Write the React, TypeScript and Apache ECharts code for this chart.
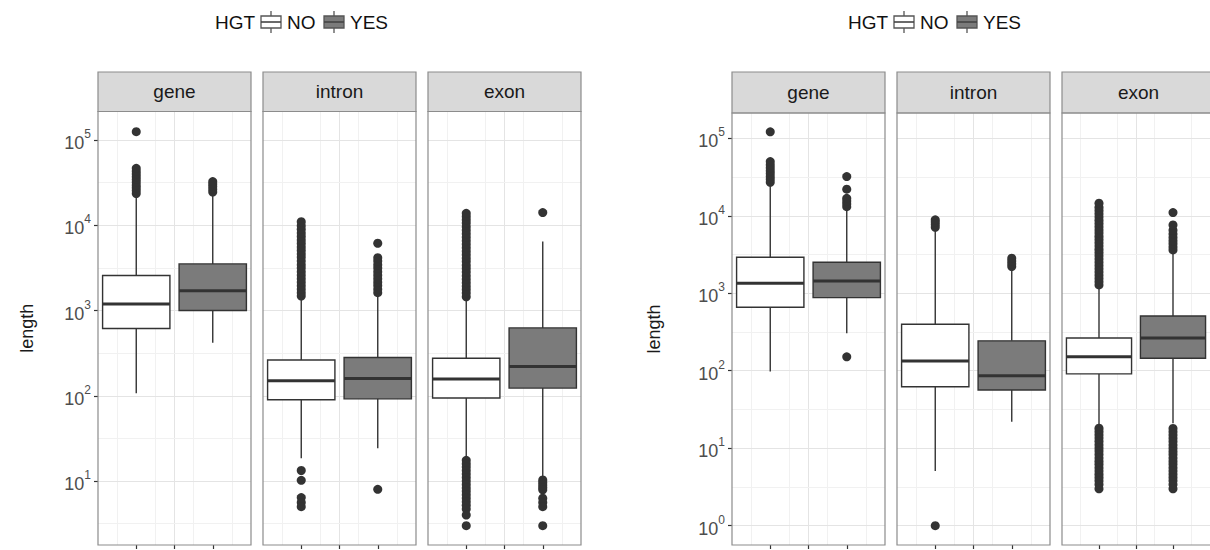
import React, { useEffect, useRef } from "react";
import * as echarts from "echarts";

// ---- data -------------------------------------------------------------
const facets = ["gene", "intron", "exon"];
const groups = ["NO", "YES"];

// five-number summaries: [lower whisker, Q1, median, Q3, upper whisker] (bp)
const lGeneNo = [107, 616, 1190, 2570, 21000];
const lGeneYes = [420, 1000, 1710, 3520, 22000];
const lIntronNo = [18.5, 90, 150, 263, 1400];
const lIntronYes = [24.3, 92, 159, 281, 1500];
const lExonNo = [18.6, 94, 157, 275, 1380];
const lExonYes = [10.8, 123, 220, 625, 6450];

const lGeneNoOut = [23500, 25500, 27500, 29500, 32000, 34500, 37000, 40000, 43000, 46500, 125000];
const lGeneYesOut = [24500, 26500, 28500, 30500, 32500];
const lIntronNoOut = [
  1480, 1620, 1780, 1950, 2150, 2350, 2600, 2850, 3150, 3450, 3800, 4200, 4600, 5050, 5550, 6100,
  6700, 7400, 8100, 8950, 9850, 11000, 13.3, 10.2, 6.4, 5.6, 5.0,
];
const lIntronYesOut = [1620, 1780, 1960, 2150, 2360, 2600, 2850, 3150, 3450, 3800, 4170, 6150, 8.0];
const lExonNoOut = [
  1450, 1600, 1760, 1930, 2120, 2330, 2560, 2820, 3100, 3400, 3750, 4100, 4500, 4950, 5450, 6000,
  6600, 7250, 7950, 8750, 9600, 10600, 11600, 12700, 13800, 17.5, 16, 14.6, 13.3, 12.1, 11, 10, 9.1,
  8.3, 7.6, 6.9, 6.3, 5.7, 5.2, 4.7, 4.0, 3.0,
];
const lExonYesOut = [14100, 10.3, 9.6, 9.0, 8.4, 7.9, 6.3, 5.6, 5.0, 3.0];

const rGeneNo = [98, 659, 1345, 2910, 25500];
const rGeneYes = [305, 877, 1440, 2510, 12000];
const rIntronNo = [5.1, 62, 134, 398, 6400];
const rIntronYes = [22, 56.5, 86, 243, 1950];
const rExonNo = [20, 91, 151, 265, 1150];
const rExonYes = [21, 145, 265, 509, 3200];

const rGeneNoOut = [27000, 29500, 32000, 35000, 38000, 41500, 45500, 50000, 121000];
const rGeneYesOut = [13100, 14300, 15500, 16800, 22000, 32000, 151];
const rIntronNoOut = [7100, 7700, 8300, 8850, 1];
const rIntronYesOut = [2210, 2400, 2600, 2830];
const rExonNoOut = [
  1280, 1410, 1550, 1710, 1880, 2070, 2280, 2510, 2760, 3040, 3350, 3690, 4060, 4470, 4920, 5420,
  5970, 6570, 7230, 7960, 8760, 9650, 10600, 11700, 12900, 14500, 18.1, 16.4, 14.9, 13.5, 12.3, 11.1,
  10.1, 9.2, 8.3, 7.5, 6.8, 6.2, 5.6, 5.1, 4.6, 4.2, 3.8, 3.4, 3.0,
];
const rExonYesOut = [
  3620, 3960, 4340, 4760, 5230, 5820, 6500, 7600, 11000, 18.0, 16.3, 14.8, 13.4, 12.2, 11.0, 10.0,
  9.1, 8.3, 7.5, 6.8, 6.2, 5.6, 5.1, 4.6, 4.2, 3.8, 3.4, 3.0,
];

const leftTicks = [1, 2, 3, 4, 5];
const leftMinor = [0.5, 1.5, 2.5, 3.5, 4.5];
const rightTicks = [0, 1, 2, 3, 4, 5];
const rightMinor = [0.5, 1.5, 2.5, 3.5, 4.5];

// ---- layout -----------------------------------------------------------
const FONT = "Liberation Sans, Arial, Helvetica, sans-serif";
const PANEL_W = 153;
const BORDER = "#8c8c8c";
const INK = "#333333";
const YES_FILL = "#7b7b7b";

const charts = [
  {
    panelX: [98, 263, 428],
    top: 111.5,
    bottom: 545,
    stripTop: 72,
    yMin: 0.25,
    yMax: 5.334,
    ticks: leftTicks,
    minor: leftMinor,
    legendX: 215,
    nameGap: 62,
    boxes: [[lGeneNo, lGeneYes], [lIntronNo, lIntronYes], [lExonNo, lExonYes]],
    outliers: [[lGeneNoOut, lGeneYesOut], [lIntronNoOut, lIntronYesOut], [lExonNoOut, lExonYesOut]],
  },
  {
    panelX: [732, 897, 1062],
    top: 113,
    bottom: 545,
    stripTop: 72,
    yMin: -0.249,
    yMax: 5.326,
    ticks: rightTicks,
    minor: rightMinor,
    legendX: 848,
    nameGap: 69,
    boxes: [[rGeneNo, rGeneYes], [rIntronNo, rIntronYes], [rExonNo, rExonYes]],
    outliers: [[rGeneNoOut, rGeneYesOut], [rIntronNoOut, rIntronYesOut], [rExonNoOut, rExonYesOut]],
  },
];

function legendIcon(x: number, fill: string) {
  const cx = x + 10;
  return {
    type: "group",
    children: [
      { type: "line", shape: { x1: cx, y1: 11, x2: cx, y2: 16 }, style: { stroke: "#555", lineWidth: 1.3 } },
      { type: "line", shape: { x1: cx, y1: 28, x2: cx, y2: 33 }, style: { stroke: "#555", lineWidth: 1.3 } },
      {
        type: "rect",
        shape: { x: x, y: 16, width: 20, height: 12 },
        style: { fill, stroke: "#555", lineWidth: 1.3 },
      },
      { type: "line", shape: { x1: x, y1: 22, x2: x + 20, y2: 22 }, style: { stroke: "#444", lineWidth: 1.6 } },
    ],
  };
}

function buildOption() {
  const grid: any[] = [];
  const xAxis: any[] = [];
  const yAxis: any[] = [];
  const series: any[] = [];
  const graphic: any[] = [];

  charts.forEach((c) => {
    // legend
    const lx = c.legendX;
    graphic.push(
      { type: "text", x: lx, y: 22, style: { text: "HGT", font: `19px ${FONT}`, fill: "#111", verticalAlign: "middle" } },
      legendIcon(lx + 46, "#ffffff"),
      { type: "text", x: lx + 72, y: 22, style: { text: "NO", font: `19px ${FONT}`, fill: "#111", verticalAlign: "middle" } },
      legendIcon(lx + 109, YES_FILL),
      { type: "text", x: lx + 135, y: 22, style: { text: "YES", font: `19px ${FONT}`, fill: "#111", verticalAlign: "middle" } }
    );
  });

  charts.forEach((c, ci) => {
    facets.forEach((facet, fi) => {
      const gi = ci * 3 + fi;
      const x = c.panelX[fi];
      const h = c.bottom - c.top;
      grid.push({ left: x, top: c.top, width: PANEL_W, height: h, show: false });

      // strip and panel frame
      graphic.push(
        {
          type: "rect",
          shape: { x, y: c.stripTop, width: PANEL_W, height: c.top - c.stripTop },
          style: { fill: "#d9d9d9", stroke: BORDER, lineWidth: 1.2 },
          z: 10,
        },
        {
          type: "text",
          x: x + PANEL_W / 2,
          y: (c.stripTop + c.top) / 2,
          style: { text: facet, font: `19px ${FONT}`, fill: "#1a1a1a", align: "center", verticalAlign: "middle" },
          z: 11,
        },
        {
          type: "rect",
          shape: { x, y: c.top, width: PANEL_W, height: h },
          style: { fill: "none", stroke: BORDER, lineWidth: 1.2 },
          z: 10,
          silent: true,
        }
      );

      // continuous x axis: ticks and vertical grid lines
      xAxis.push({
        type: "value",
        gridIndex: gi,
        position: "bottom",
        min: 0.5,
        max: 2.5,
        interval: 0.5,
        axisLine: { show: false, onZero: false },
        axisLabel: { show: false },
        axisTick: { show: true, customValues: [1, 1.5, 2], length: 4, lineStyle: { color: INK, width: 1.2 } },
        splitLine: { show: true, showMinLine: false, showMaxLine: false, lineStyle: { color: "#e4e4e4", width: 1 } },
        minorTick: { show: false, splitNumber: 2 },
        minorSplitLine: { show: true, lineStyle: { color: "#f1f1f1", width: 1 } },
      });
      // discrete HGT axis for boxes and points
      xAxis.push({ type: "category", gridIndex: gi, data: groups, show: false, axisLine: { onZero: false } });

      const first = fi === 0;
      yAxis.push({
        type: "value",
        gridIndex: gi,
        min: c.yMin,
        max: c.yMax,
        axisLine: { show: false, onZero: false },
        splitLine: { show: false },
        axisTick: { show: first, customValues: c.ticks, length: 4, lineStyle: { color: INK, width: 1.2 } },
        axisLabel: {
          show: first,
          customValues: c.ticks,
          margin: 7,
          formatter: (v: number) => `{b|10}{s|${Math.round(v)}}`,
          rich: {
            b: { fontSize: 18, fontFamily: FONT, color: "#4d4d4d", lineHeight: 24, verticalAlign: "bottom" },
            s: { fontSize: 12, fontFamily: FONT, color: "#4d4d4d", lineHeight: 12, verticalAlign: "top" },
          },
        },
        name: first ? "length" : "",
        nameLocation: "middle",
        nameGap: c.nameGap,
        nameTextStyle: { fontSize: 18, fontFamily: FONT, color: "#1a1a1a" },
      });

      const boxes = c.boxes[fi];
      series.push({
        type: "custom",
        xAxisIndex: gi * 2 + 1,
        yAxisIndex: gi,
        z: 2,
        data: boxes.map((b, k) => [k, ...b.map((v) => Math.log10(v))]),
        encode: { x: 0, y: [1, 2, 3, 4, 5] },
        renderItem: (_params: any, api: any) => {
          const k = api.value(0);
          const lo = api.coord([k, api.value(1)]);
          const q1 = api.coord([k, api.value(2)]);
          const md = api.coord([k, api.value(3)]);
          const q3 = api.coord([k, api.value(4)]);
          const hi = api.coord([k, api.value(5)]);
          const bw = api.size([1, 0])[0] * 0.88;
          const cx = lo[0];
          const fill = k === 0 ? "#ffffff" : YES_FILL;
          return {
            type: "group",
            children: [
              { type: "line", shape: { x1: cx, y1: hi[1], x2: cx, y2: q3[1] }, style: { stroke: INK, lineWidth: 1.4 } },
              { type: "line", shape: { x1: cx, y1: q1[1], x2: cx, y2: lo[1] }, style: { stroke: INK, lineWidth: 1.4 } },
              {
                type: "rect",
                shape: { x: cx - bw / 2, y: q3[1], width: bw, height: q1[1] - q3[1] },
                style: { fill, stroke: INK, lineWidth: 1.4 },
              },
              {
                type: "line",
                shape: { x1: cx - bw / 2, y1: md[1], x2: cx + bw / 2, y2: md[1] },
                style: { stroke: INK, lineWidth: 3 },
              },
            ],
          };
        },
      });

      const pts: number[][] = [];
      c.outliers[fi].forEach((arr, k) => arr.forEach((v) => pts.push([k, Math.log10(v)])));
      series.push({
        type: "scatter",
        xAxisIndex: gi * 2 + 1,
        yAxisIndex: gi,
        z: 3,
        symbol: "circle",
        symbolSize: 9,
        itemStyle: { color: INK, opacity: 1 },
        data: pts,
        markLine: {
          silent: true,
          z: 1,
          symbol: "none",
          label: { show: false },
          data: [
            ...c.minor.map((v) => ({ yAxis: v, lineStyle: { color: "#f1f1f1", width: 1, type: "solid" } })),
            ...c.ticks.map((v) => ({ yAxis: v, lineStyle: { color: "#e4e4e4", width: 1, type: "solid" } })),
          ],
        },
      });
    });
  });

  return {
    animation: false,
    backgroundColor: "#ffffff",
    textStyle: { fontFamily: FONT },
    grid,
    xAxis,
    yAxis,
    series,
    graphic,
  };
}

export default function App() {
  const ref = useRef<HTMLDivElement>(null);
  useEffect(() => {
    if (!ref.current) return;
    const chart = echarts.init(ref.current, undefined, { renderer: "svg" });
    chart.setOption(buildOption() as any);
    return () => chart.dispose();
  }, []);
  return (
    <div
      ref={ref}
      style={{ position: "absolute", left: 0, top: 0, width: 1210, height: 550, background: "#fff" }}
    />
  );
}
